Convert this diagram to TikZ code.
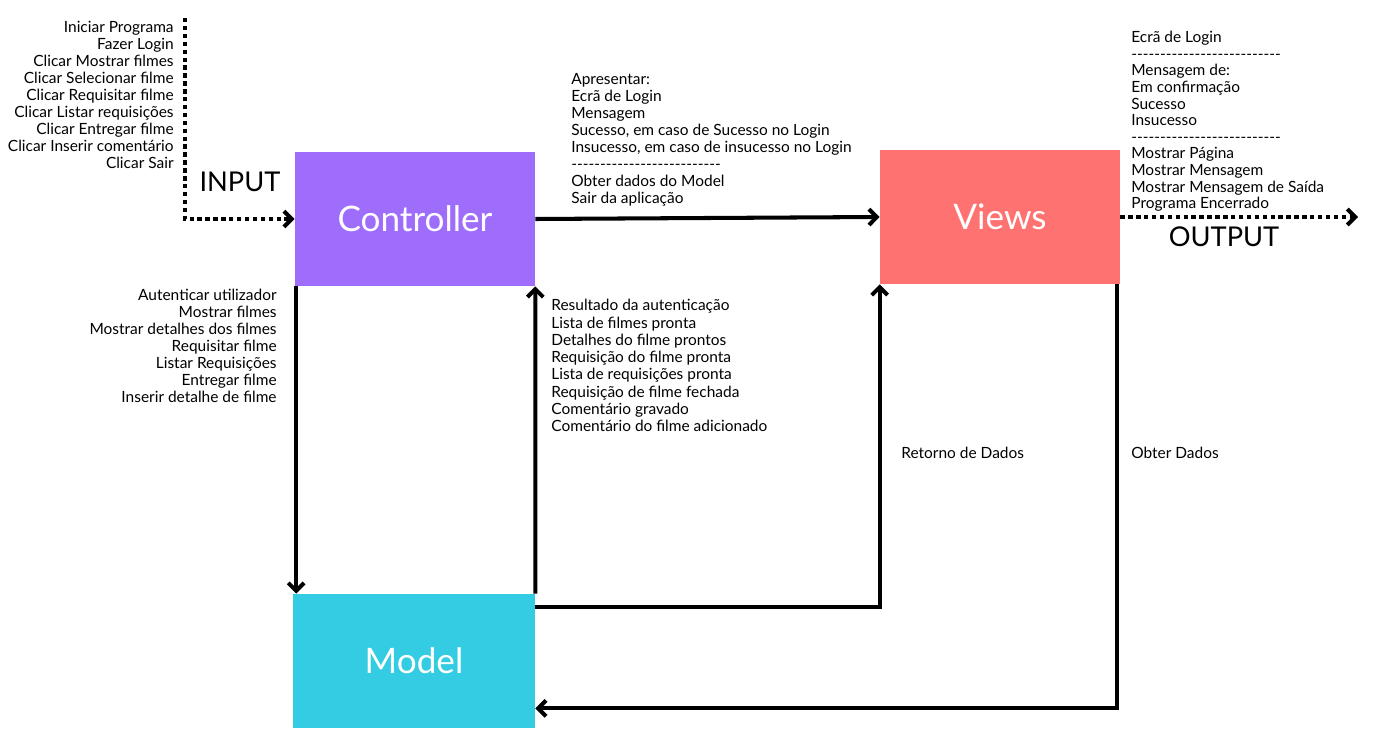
\documentclass[tikz,border=0pt]{standalone}
\usepackage{fontspec}
\setmainfont{Lato}
\usetikzlibrary{positioning,arrows.meta}
\definecolor{ctrlcol}{HTML}{9F6DFB}
\definecolor{viewcol}{HTML}{FF7272}
\definecolor{modelcol}{HTML}{33CCE2}
\newcommand{\sepline}{-{}-{}-{}-{}-{}-{}-{}-{}-{}-{}-{}-{}-{}-{}-{}-{}-{}-{}-{}-{}-{}-{}-{}-{}-{}-{}}

\begin{document}
\begin{tikzpicture}[x=0.02cm,y=-0.02cm,
box/.style={
  minimum width=4.8cm,
  minimum height=2.68cm,
  inner sep=0pt,
  font={\color{white}\fontsize{20pt}{22pt}\selectfont}},
lbl/.style={
  inner sep=0pt,
  font={\fontsize{8.8pt}{9.7pt}\selectfont}},
biglbl/.style={
  inner sep=0pt,
  font={\fontsize{15.5pt}{17pt}\selectfont}},
flow/.style={
  line width=2.3pt,
  -{Straight Barb[length=4.5pt,width=9pt]}},
dotflow/.style={
  flow,
  dash pattern=on 2.5pt off 2pt},
]
\useasboundingbox (0,0) rectangle (1400,733);

\node[box,fill=ctrlcol] (ctrl) at (415,219) {Controller};
\node[box,fill=viewcol] (views) at (1000,217) {Views};
\node[box,fill=modelcol,minimum width=4.84cm] (model) at (414,661) {Model};

% input and output
\coordinate (in) at (185,18);
\coordinate (out) at (1358,217);
\draw[dotflow] (in) |- (ctrl.west);
\draw[dotflow] (views.east) -- (out);
\node[biglbl] (inlbl) at (240,182) {INPUT};
\node[biglbl] (outlbl) at (1224,237) {OUTPUT};

\node[lbl,anchor=north east,align=right] (clicks) at (174,21) {Iniciar Programa\\
Fazer Login\\Clicar Mostrar filmes\\Clicar Selecionar filme\\
Clicar Requisitar filme\\Clicar Listar requisições\\Clicar Entregar filme\\
Clicar Inserir comentário\\Clicar Sair};

% controller -> views
\draw[flow] (ctrl.east) -- (views.west);
\node[lbl,anchor=north west,align=left] (present) at (571,73) {Apresentar:\\
Ecrã de Login\\Mensagem\\Sucesso, em caso de Sucesso no Login\\
Insucesso, em caso de insucesso no Login\\\sepline\\
Obter dados do Model\\Sair da aplicação};

\node[lbl,anchor=north west,align=left,font={\fontsize{8.8pt}{9.45pt}\selectfont}] (screens) at (1131,31) {Ecrã de Login\\
\sepline\\Mensagem de:\\Em confirmação\\Sucesso\\Insucesso\\\sepline\\
Mostrar Página\\Mostrar Mensagem\\Mostrar Mensagem de Saída\\Programa Encerrado};

% controller <-> model
\draw[flow] ([xshift=0.03cm]ctrl.south west) -- ([xshift=0.03cm]ctrl.south west |- model.north);
\draw[flow] (model.north east) -- (ctrl.south east);
\node[lbl,anchor=north east,align=right] (requests) at (277,289) {Autenticar utilizador\\
Mostrar filmes\\Mostrar detalhes dos filmes\\Requisitar filme\\
Listar Requisições\\Entregar filme\\Inserir detalhe de filme};
\node[lbl,anchor=north west,align=left,font={\fontsize{8.8pt}{9.85pt}\selectfont}] (results) at (551,299) {Resultado da autenticação\\
Lista de filmes pronta\\Detalhes do filme prontos\\Requisição do filme pronta\\
Lista de requisições pronta\\Requisição de filme fechada\\Comentário gravado\\
Comentário do filme adicionado};

% model <-> views
\draw[flow] ([yshift=-0.26cm]model.north east) -| (views.south west);
\draw[flow] ([xshift=-0.06cm]views.south east) |- ([yshift=0.4cm]model.south east);
\node[lbl,anchor=west] (retorno) at (901,453) {Retorno de Dados};
\node[lbl,anchor=west] (obter) at (1131,453) {Obter Dados};

\end{tikzpicture}
\end{document}
